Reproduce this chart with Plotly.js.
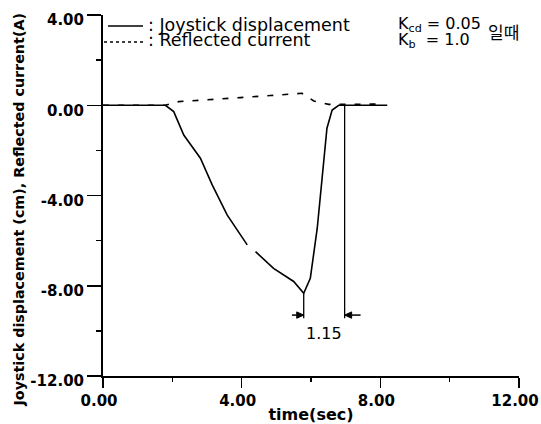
<!DOCTYPE html>
<html>
<head>
<meta charset="utf-8">
<script src="https://cdn.plot.ly/plotly-3.0.1.min.js"></script>
<style>html,body{margin:0;padding:0;background:#fff;}#chart{width:541px;height:424px;}</style>
</head>
<body>
<div id="chart"></div>
<script>
// ---- data ----
const dispTime = [0, 1.80, 2.04, 2.33, 2.81, 3.15, 3.58, 4.16, 4.28, 4.40, 4.92, 5.50, 5.79, 5.98, 6.18, 6.32, 6.46, 6.61, 6.80, 8.20];
const dispVal  = [0, 0, -0.28, -1.32, -2.35, -3.53, -4.86, -6.19, null, -6.49, -7.23, -7.81, -8.33, -7.67, -5.45, -3.24, -1.02, -0.21, 0, 0];
const currTime = [0, 1.80, 2.18, 3.10, 3.96, 4.83, 5.31, 5.74, 6.08, 6.51, 8.00];
const currVal  = [0, 0, 0.16, 0.24, 0.34, 0.43, 0.49, 0.53, 0.19, 0.04, 0.05];
const xTickVals = [0, 4, 8, 12];
const xTickText = ['0.00', '4.00', '8.00', '12.00'];
const xMinorVals = [2, 6, 10];
const yTickVals = [4, 0, -4, -8, -12];
const yTickText = ['4.00', '0.00', '-4.00', '-8.00', '-12.00'];
const yMinorVals = [2, -2, -6, -10];
const seriesNames = [': Joystick displacement', ': Reflected current'];
const xTitle = 'time(sec)';
const yTitle = 'Joystick displacement (cm), Reflected current(A)';
// return-time bracket
const peakTime = 5.79, peakVal = -8.33, returnTime = 6.97, bracketBottom = -9.44, arrowLevel = -9.3;
const leftArrowStart = 5.45, rightArrowStart = 7.43;
const deltaLabel = '1.15';

// ---- layout helpers (pixel -> paper) ----
const L = 103, T = 15, W = 416, H = 361;
const px = p => (p - L) / W;
const py = p => (T + H - p) / H;
const xu = W / 12, yu = H / 16;          // pixels per data unit
const headLen = 7 / xu, headHalf = 3.2 / yu;

const traces = [
  {x: dispTime, y: dispVal, name: seriesNames[0], mode: 'lines', connectgaps: false,
   line: {color: '#000', width: 1.6}},
  {x: currTime, y: currVal, name: seriesNames[1], mode: 'lines',
   line: {color: '#000', width: 1.6, dash: '6px,9px'}}
];

const bold = {family: 'DejaVu Sans', weight: 'bold', color: '#000'};
const blackLine = {color: '#000', width: 1.3};

function head(tipX, dir) { // dir +1 points right, -1 points left
  const bx = tipX - dir * headLen;
  return {type: 'path', xref: 'x', yref: 'y',
    path: 'M' + tipX + ',' + arrowLevel + ' L' + bx + ',' + (arrowLevel + headHalf) + ' L' + bx + ',' + (arrowLevel - headHalf) + ' Z',
    fillcolor: '#000', line: {color: '#000', width: 1}};
}

const layout = {
  width: 541, height: 424,
  margin: {l: L, r: 541 - L - W, t: T, b: 424 - T - H, pad: 0},
  paper_bgcolor: '#fff', plot_bgcolor: '#fff',
  showlegend: false,
  font: {family: 'DejaVu Sans', color: '#000'},
  xaxis: {
    range: [0, 12], tickmode: 'array', tickvals: xTickVals, ticktext: xTickText,
    ticks: 'outside', ticklen: 10, tickwidth: 1.5, tickcolor: '#000',
    showline: true, linewidth: 2, linecolor: '#000', showgrid: false, zeroline: false,
    tickfont: Object.assign({size: 15}, bold), ticklabelshift: -4,
    minor: {tickmode: 'array', tickvals: xMinorVals, ticks: 'outside', ticklen: 4, tickwidth: 1.5, tickcolor: '#000', showgrid: false},
    title: {text: xTitle, font: Object.assign({size: 16}, bold), standoff: 3}
  },
  yaxis: {
    range: [-12, 4], tickmode: 'array', tickvals: yTickVals, ticktext: yTickText,
    ticks: 'outside', ticklen: 14, tickwidth: 1.5, tickcolor: '#000',
    showline: true, linewidth: 2, linecolor: '#000', showgrid: false, zeroline: false,
    tickfont: Object.assign({size: 15}, bold), ticklabelshift: 5,
    minor: {tickmode: 'array', tickvals: yMinorVals, ticks: 'outside', ticklen: 5, tickwidth: 1.5, tickcolor: '#000', showgrid: false}
  },
  shapes: [
    // legend samples
    {type: 'line', xref: 'paper', yref: 'paper', x0: px(108), x1: px(143), y0: py(26), y1: py(26), line: blackLine},
    {type: 'line', xref: 'paper', yref: 'paper', x0: px(104), x1: px(143), y0: py(42), y1: py(42), line: {color: '#000', width: 1.3, dash: 'dot'}},
    // bracket lines
    {type: 'line', xref: 'x', yref: 'y', x0: peakTime, x1: peakTime, y0: peakVal, y1: bracketBottom, line: blackLine},
    {type: 'line', xref: 'x', yref: 'y', x0: returnTime, x1: returnTime, y0: 0, y1: bracketBottom, line: blackLine},
    // bracket arrows
    {type: 'line', xref: 'x', yref: 'y', x0: leftArrowStart, x1: peakTime - headLen, y0: arrowLevel, y1: arrowLevel, line: {color: '#000', width: 1.5}},
    {type: 'line', xref: 'x', yref: 'y', x0: rightArrowStart, x1: returnTime + headLen, y0: arrowLevel, y1: arrowLevel, line: {color: '#000', width: 1.5}},
    head(peakTime, 1),
    head(returnTime, -1)
  ],
  annotations: [
    {xref: 'paper', yref: 'paper', x: px(18.5), y: py(210), text: yTitle, textangle: -90, showarrow: false,
     xanchor: 'center', yanchor: 'middle', font: Object.assign({size: 14.3}, bold)},
    {xref: 'paper', yref: 'paper', x: px(146), y: py(25), text: seriesNames[0], showarrow: false,
     xanchor: 'left', yanchor: 'middle', font: {family: 'DejaVu Sans', size: 17.5, color: '#000'}},
    {xref: 'paper', yref: 'paper', x: px(146), y: py(40), text: seriesNames[1], showarrow: false,
     xanchor: 'left', yanchor: 'middle', font: {family: 'DejaVu Sans', size: 17.5, color: '#000'}},
    {xref: 'paper', yref: 'paper', x: px(396), y: py(25), text: 'K<sub>cd</sub> = 0.05', showarrow: false,
     xanchor: 'left', yanchor: 'middle', font: {family: 'DejaVu Sans', size: 16, color: '#000'}},
    {xref: 'paper', yref: 'paper', x: px(396), y: py(40), text: 'K<sub>b</sub>  = 1.0', showarrow: false,
     xanchor: 'left', yanchor: 'middle', font: {family: 'DejaVu Sans', size: 16, color: '#000'}},
    {xref: 'paper', yref: 'paper', x: px(486), y: py(32), text: '일때', showarrow: false,
     xanchor: 'left', yanchor: 'middle', font: {family: 'Noto Sans CJK KR', size: 17, color: '#000'}},
    {xref: 'x', yref: 'y', x: (peakTime + returnTime) / 2, y: -10.1, text: deltaLabel, showarrow: false,
     xanchor: 'center', yanchor: 'middle', font: {family: 'DejaVu Sans', size: 16, color: '#000'}}
  ]
};

Plotly.newPlot('chart', traces, layout, {staticPlot: true, displayModeBar: false});
</script>
</body>
</html>
